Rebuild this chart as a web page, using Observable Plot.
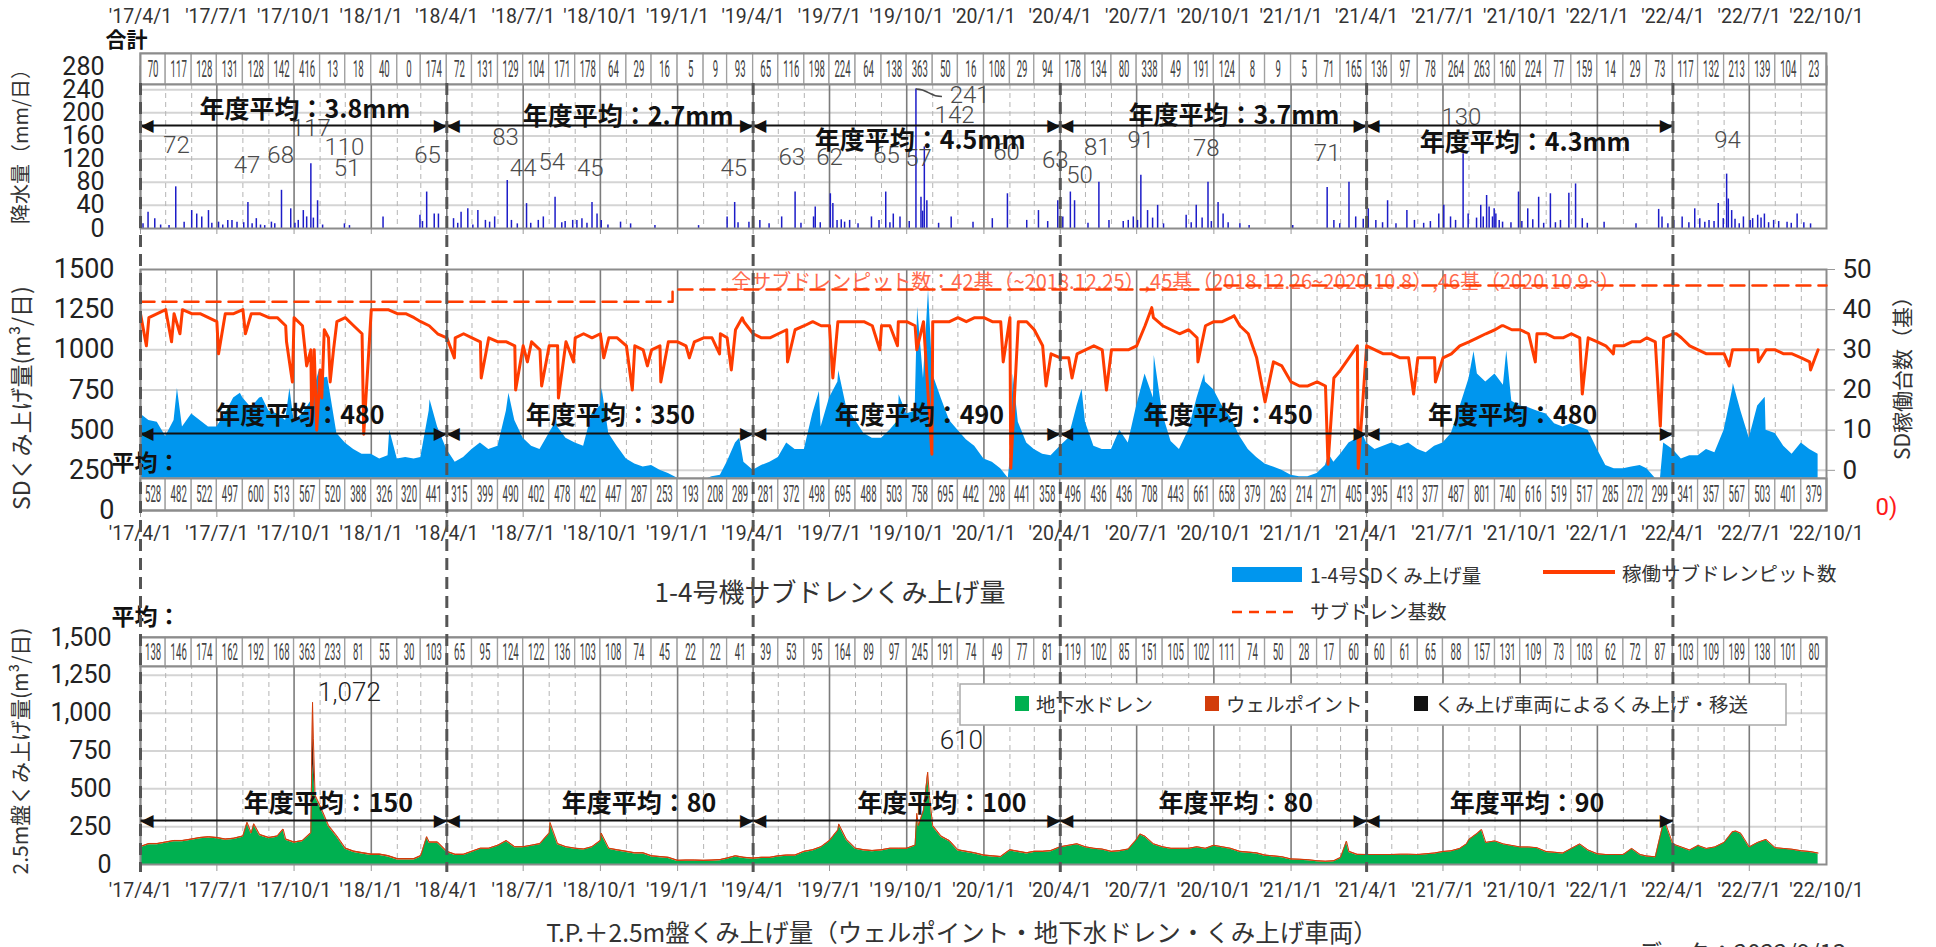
<!DOCTYPE html>
<html><head><meta charset="utf-8">
<script src="https://cdn.jsdelivr.net/npm/d3@7"></script>
<script src="https://cdn.jsdelivr.net/npm/@observablehq/plot@0.6"></script>
<style>
html,body{margin:0;padding:0;background:#fff;}
#root{position:relative;width:1936px;height:947px;overflow:hidden;background:#fff;}
#root svg{position:absolute;left:0;overflow:visible;}
[aria-label^="x-axis"]{color:#999;}
[aria-label^="y-axis"] line,[aria-label^="y-axis"] path{stroke:#999;}
</style></head><body><div id="root"></div>
<script>
// ---------------- DATA ----------------
const xTickLabels = ["'17/4/1","'17/7/1","'17/10/1","'18/1/1","'18/4/1","'18/7/1","'18/10/1","'19/1/1","'19/4/1","'19/7/1","'19/10/1","'20/1/1","'20/4/1","'20/7/1","'20/10/1","'21/1/1","'21/4/1","'21/7/1","'21/10/1","'22/1/1","'22/4/1","'22/7/1","'22/10/1"];
const fyStartYears = [2017, 2018, 2019, 2020, 2021];
const fyLineDates = ["2017-04-01","2018-04-01","2019-04-01","2020-04-01","2021-04-01","2022-04-01"];

// monthly totals / averages in the header strips (Apr 2017 - Sep 2022)
const rainMonthly = [70,117,128,131,128,142,416,13,18,40,0,174, 72,131,129,104,171,178,64,29,16,5,9,93, 65,116,198,224,64,138,363,50,16,108,29,94, 178,134,80,338,49,191,124,8,9,5,71,165, 136,97,78,264,263,160,224,77,159,14,29,73, 117,132,213,139,104,23];
const sdMonthly = [528,482,522,497,600,513,567,520,388,326,320,441, 315,399,490,402,478,422,447,287,253,193,208,289, 281,372,498,695,488,503,758,695,442,298,441,358, 496,436,436,708,443,661,658,379,263,214,271,405, 395,413,377,487,801,740,616,519,517,285,272,299, 341,357,567,503,401,379];
const tpMonthly = [138,146,174,162,192,168,363,233,81,55,30,103, 65,95,124,122,136,103,108,74,45,22,22,41, 39,53,95,164,89,97,245,191,74,49,77,81, 119,102,85,151,105,102,111,74,50,28,17,60, 60,61,65,88,157,131,109,73,103,62,72,87, 103,109,189,138,101,80];

// daily rainfall (mm/day) read from the spikes
const rainDaily = [
["2017-04-04",8],["2017-04-10",28],["2017-04-18",17],["2017-04-25",6],["2017-05-05",5],["2017-05-13",72],["2017-05-23",11],["2017-06-01",31],["2017-06-07",25],["2017-06-13",20],["2017-06-21",31],["2017-06-25",9],["2017-07-03",11],["2017-07-08",6],["2017-07-14",14],["2017-07-19",14],["2017-07-25",11],["2017-08-02",10],["2017-08-07",45],["2017-08-12",8],["2017-08-17",17],["2017-08-22",6],["2017-08-27",5],["2017-09-04",11],["2017-09-08",8],["2017-09-16",66],["2017-09-27",34],["2017-10-02",9],["2017-10-06",14],["2017-10-12",31],["2017-10-16",20],["2017-10-21",112],["2017-10-24",18],["2017-10-29",48],["2017-11-04",6],["2017-11-30",8],["2017-12-06",5],["2018-01-15",20],["2018-02-28",23],["2018-03-03",12],["2018-03-08",63],["2018-03-17",25],["2018-03-22",25],
["2018-04-09",17],["2018-04-14",9],["2018-04-18",28],["2018-04-26",34],["2018-05-02",6],["2018-05-08",31],["2018-05-17",14],["2018-05-22",11],["2018-05-28",20],["2018-06-12",83],["2018-06-17",14],["2018-06-24",8],["2018-07-05",43],["2018-07-10",9],["2018-07-19",14],["2018-07-25",20],["2018-08-08",54],["2018-08-16",10],["2018-08-20",12],["2018-08-29",14],["2018-09-03",14],["2018-09-09",17],["2018-09-15",9],["2018-09-21",45],["2018-09-27",25],["2018-10-02",14],["2018-10-10",6],["2018-10-25",11],["2018-11-06",8],["2018-12-05",5],["2019-01-26",5],["2019-03-01",20],["2019-03-10",45],["2019-03-14",10],["2019-03-27",11],
["2019-04-09",14],["2019-04-20",8],["2019-05-05",20],["2019-05-21",63],["2019-05-28",9],["2019-06-12",20],["2019-06-14",37],["2019-06-20",10],["2019-07-02",60],["2019-07-05",43],["2019-07-10",14],["2019-07-15",15],["2019-07-19",11],["2019-07-25",14],["2019-08-04",8],["2019-08-20",20],["2019-08-29",14],["2019-09-06",63],["2019-09-11",10],["2019-09-15",25],["2019-09-23",20],["2019-10-04",12],["2019-10-12",241],["2019-10-18",54],["2019-10-20",30],["2019-10-22",141],["2019-10-25",48],["2019-11-08",9],["2019-11-23",20],["2019-12-19",11],["2020-01-11",17],["2020-01-29",60],["2020-02-21",14],["2020-03-06",31],["2020-03-17",12],["2020-03-29",48],
["2020-04-04",20],["2020-04-13",63],["2020-04-18",48],["2020-05-04",9],["2020-05-17",80],["2020-05-29",14],["2020-06-15",12],["2020-06-21",14],["2020-06-27",20],["2020-07-02",14],["2020-07-06",92],["2020-07-14",31],["2020-07-20",18],["2020-07-26",40],["2020-08-02",8],["2020-08-29",23],["2020-09-04",10],["2020-09-10",40],["2020-09-17",18],["2020-09-24",80],["2020-09-28",12],["2020-10-06",45],["2020-10-12",25],["2020-10-18",10],["2020-11-01",8],["2020-11-12",5],["2021-01-03",5],["2021-02-13",71],["2021-02-21",14],["2021-02-28",8],["2021-03-11",80],["2021-03-19",20],["2021-03-28",16],
["2021-04-03",34],["2021-04-12",14],["2021-04-20",10],["2021-04-26",48],["2021-05-06",8],["2021-05-19",31],["2021-05-28",14],["2021-06-08",9],["2021-06-16",12],["2021-06-26",25],["2021-07-02",40],["2021-07-10",20],["2021-07-16",14],["2021-07-25",129],["2021-07-31",25],["2021-08-10",18],["2021-08-15",40],["2021-08-18",20],["2021-08-22",57],["2021-08-25",37],["2021-08-29",20],["2021-08-31",34],["2021-09-02",25],["2021-09-06",14],["2021-09-10",11],["2021-09-20",10],["2021-09-29",63],["2021-10-03",12],["2021-10-10",34],["2021-10-16",15],["2021-10-23",54],["2021-10-29",9],["2021-11-06",60],["2021-11-12",10],["2021-11-18",14],["2021-11-28",61],["2021-12-06",77],["2021-12-14",17],["2021-12-20",9],["2022-01-09",11],["2022-02-16",8],["2022-03-15",33],["2022-03-19",20],["2022-03-26",8],
["2022-04-02",14],["2022-04-12",20],["2022-04-20",10],["2022-04-27",34],["2022-05-03",17],["2022-05-09",11],["2022-05-14",14],["2022-05-20",12],["2022-05-25",43],["2022-05-31",17],["2022-06-04",94],["2022-06-06",51],["2022-06-10",31],["2022-06-14",16],["2022-06-19",8],["2022-06-24",20],["2022-07-02",14],["2022-07-05",17],["2022-07-11",23],["2022-07-15",18],["2022-07-19",25],["2022-07-24",10],["2022-07-30",14],["2022-08-05",12],["2022-08-15",11],["2022-08-20",9],["2022-08-27",25],["2022-09-04",10],["2022-09-12",8]
];
// grey figures written in the rainfall panel: [date, mm, label]
const rainLabels = [["2017-05-14",143,"72"],["2017-08-06",109,"47"],["2017-09-15",126,"68"],["2017-10-21",173,"117"],["2017-11-30",140,"110"],["2017-12-03",104,"51"],["2018-03-09",126,"65"],["2018-06-10",157,"83"],["2018-07-01",104,"44"],["2018-08-04",114,"54"],["2018-09-19",104,"45"],["2019-03-09",104,"45"],["2019-05-17",123,"63"],["2019-07-01",123,"62"],["2019-09-07",126,"65"],["2019-10-15",121,"57"],["2019-11-27",195,"142"],["2019-12-15",230,"241"],["2020-01-28",131,"60"],["2020-03-26",118,"63"],["2020-04-24",92,"50"],["2020-05-15",140,"81"],["2020-07-06",152,"91"],["2020-09-22",138,"78"],["2021-02-13",130,"71"],["2021-07-23",192,"130"],["2022-06-05",152,"94"]];
const rainLeader = [{x1:"2019-10-12",y1:241,x2:"2019-11-12",y2:228}];

// fiscal-year averages
const rainFYText = ["年度平均：3.8mm","年度平均：2.7mm","年度平均：4.5mm","年度平均：3.7mm","年度平均：4.3mm"];
const rainFYTextAt = [["2017-10-14",204],["2018-11-03",192],["2019-10-17",152],["2020-10-25",195],["2021-10-07",147]];
const rainArrowLevel = 178;
const sdFYText = ["年度平均：480","年度平均：350","年度平均：490","年度平均：450","年度平均：480"];
const sdFYTextAt = [["2017-10-08",591],["2018-10-13",591],["2019-10-16",591],["2020-10-18",591],["2021-09-22",591]];
const sdArrowLevel = 479;
const tpFYText = ["年度平均：150","年度平均：80","年度平均：100","年度平均：80","年度平均：90"];
const tpFYTextAt = [["2017-11-11",403],["2018-11-16",403],["2019-11-12",403],["2020-10-27",403],["2021-10-09",403]];
const tpArrowLevel = 291;

// SD pumping (m3/day), read on the 1st, 11th and 21st of each month
const sdBase = [
600,560,550, 460,560,520, 600,560,520, 520,600,700, 700,640,700, 620,600,560, 560,600,680, 820,800,480, 420,380,350, 350,320,340, 320,330,320, 330,620,520,
380,300,330, 380,420,380, 400,620,560, 450,400,380, 480,520,450, 420,400,600, 650,480,400, 320,290,270, 280,250,230, 200,190,190, 190,210,220, 300,420,300,
250,280,300, 330,420,380, 380,600,520, 700,800,650, 560,480,450, 450,500,560, 600,620,820, 850,700,560, 500,440,400, 320,300,260, 300,550,420, 380,350,340,
400,450,650, 550,400,380, 380,500,420, 650,850,700, 600,430,380, 500,700,800, 750,650,580, 460,380,330, 290,270,250, 220,210,210, 230,280,300, 350,420,450,
420,380,400, 420,400,420, 380,360,400, 420,480,640, 820,850,800, 850,780,680, 650,640,620, 600,540,520, 540,520,500, 380,280,260, 260,270,280, 260,200,420,
380,320,340, 340,380,360, 500,750,620, 450,650,500, 480,400,350, 420,380,350];
const sdExtra = [["2017-05-15",760],["2017-07-29",730],["2017-08-24",705],["2017-09-26",760],["2017-10-31",870],["2017-11-10",830],["2018-01-23",500],["2018-03-12",690],["2018-06-14",730],["2018-08-10",560],["2018-10-03",760],["2019-03-16",450],["2019-06-19",740],["2019-07-12",870],["2019-09-22",720],["2019-10-14",1265],["2019-10-27",1375],["2020-01-30",200],["2020-02-05",850],["2020-04-27",755],["2020-07-22",965],["2020-09-20",850],["2021-02-15",350],["2021-03-22",540],["2021-08-07",990],["2021-09-15",995],["2022-03-17",190],["2022-06-12",790],["2022-07-20",705]];

// operating sub-drain pits (count)
const pitsBase = [
39,38,39, 40,39,40, 39,39,38, 37,39,39, 40,39,39, 38,38,36, 38,36,30, 25,33,37, 38,36,34, 40,40,40, 39,39,38, 37,36,34,
33,33,34, 33,32,33, 32,32,31, 31,32,30, 31,31,32, 33,34,33, 34,33,33, 31,31,30, 30,31,32, 32,31,32, 33,33,34, 33,35,37,
34,33,33, 34,35,35, 36,37,36, 36,37,37, 37,37,36, 36,36,37, 37,36,37, 37,37,37, 38,37,38, 38,37,37, 38,37,37, 35,31,29,
28,28,29, 30,31,30, 30,30,30, 31,36,38, 36,35,34, 35,33,36, 37,37,38, 36,34,28, 27,27,26, 22,21,21, 22,21,23, 25,28,31,
31,30,29, 29,28,28, 28,28,28, 28,29,31, 32,33,34, 35,36,35, 35,34,34, 34,33,33, 34,33,33, 32,31,31, 31,32,32, 33,32,33,
34,33,31, 30,29,29, 29,30,30, 30,30,30, 30,29,29, 28,27,30];
const pitsExtra = [["2017-04-08",31],["2017-05-08",32],["2017-05-18",34],["2017-07-03",29],["2017-08-04",34],["2017-09-22",32],["2017-09-29",22],["2017-10-16",26],["2017-10-22",12],["2017-10-25",30],["2017-10-28",10],["2017-11-03",18],["2017-11-06",35],["2017-11-13",22],["2017-11-17",30],["2017-12-23",9],["2018-04-10",28],["2018-05-12",23],["2018-06-22",20],["2018-07-06",27],["2018-07-23",21],["2018-08-12",18],["2018-08-30",27],["2018-10-05",28],["2018-11-08",20],["2018-11-26",26],["2018-12-12",22],["2019-01-15",28],["2019-02-20",29],["2019-03-06",25],["2019-03-19",38],["2019-05-12",27],["2019-07-05",23],["2019-08-30",30],["2019-09-20",31],["2019-10-13",30],["2019-10-31",4],["2020-01-24",27],["2020-02-02",0.5],["2020-03-15",21],["2020-04-15",23],["2020-05-26",20],["2020-07-19",40.5],["2020-09-12",27],["2020-10-25",38.5],["2020-12-01",17],["2021-02-14",1.5],["2021-03-22",0.5],["2021-05-27",19],["2021-06-22",22],["2021-09-09",36],["2021-10-19",27],["2021-12-14",19],["2022-01-20",29],["2022-03-17",11],["2022-04-05",34],["2022-06-07",26],["2022-07-12",27],["2022-09-12",25]];
const pitCapacity = [["2017-04-01",42],["2018-12-26",45],["2020-10-09",46],["2022-10-01",46]];
const pitNote = "全サブドレンピット数：42基（~2018.12.25）,45基（2018.12.26~2020.10.8）,46基（2020.10.9~）";

// T.P.+2.5m pumping: groundwater drain (m3/day) on the 1st, 11th, 21st
const drainBase = [
110,130,130, 140,150,150, 160,170,175, 170,160,165, 180,200,190, 170,180,160, 140,150,200, 380,250,180, 100,80,70, 60,60,50, 30,30,30, 50,140,140,
80,60,60, 80,100,100, 120,150,110, 110,120,130, 200,130,110, 100,95,110, 150,100,90, 80,70,70, 50,45,40, 20,22,22, 20,22,25, 35,50,40,
35,40,40, 50,55,55, 80,90,110, 150,220,160, 100,90,85, 90,100,100, 100,120,350, 250,180,150, 90,80,70, 55,50,45, 90,80,70, 80,80,85,
110,120,130, 110,100,95, 80,85,95, 160,180,130, 110,100,100, 100,110,100, 120,110,100, 80,75,70, 55,50,45, 30,28,25, 18,15,18, 40,80,60,
60,60,60, 60,62,62, 60,65,70, 80,85,100, 160,200,140, 150,130,120, 110,110,105, 80,75,70, 100,130,90, 65,60,60, 60,100,60, 50,45,280,
130,110,90, 120,100,110, 140,210,200, 110,140,160, 105,100,95, 85,80,70];
const drainExtra = [["2017-08-06",270],["2017-08-14",260],["2017-09-18",225],["2017-10-23",660],["2017-10-24",600],["2017-10-26",450],["2018-03-08",175],["2018-08-02",270],["2018-10-02",200],["2019-07-12",260],["2019-10-13",330],["2019-10-15",250],["2019-10-26",577],["2019-10-28",450],["2020-07-05",195],["2021-03-08",147],["2021-07-29",130],["2021-08-16",225],["2022-03-22",285],["2022-06-15",215]];
const wellByFY = [9, 8, 8, 7, 6, 6];               // well point layer (thin red)
const tpLayers = [["2017-10-23",182,230],["2017-10-24",60,170],["2019-10-26",33,0]]; // [date, wellpoint, vehicle]
const tpPeakLabels = [["2017-12-06",1137,"1,072"],["2019-12-05",820,"610"]];

// ---------------- HELPERS ----------------
const CJK = "Noto Sans CJK JP, sans-serif";
const NUM = "Roboto, sans-serif";
const root = document.getElementById("root");
const xDomain = [new Date("2017-04-01"), new Date("2022-10-01")];
const monthStarts = d3.utcMonth.range(xDomain[0], xDomain[1]);
const quarterDates = monthStarts.filter(d => d.getUTCMonth() % 3 === 0);
const otherMonths = monthStarts.filter(d => d.getUTCMonth() % 3 !== 0);
const xTicks = xTickLabels.map(l => { const [yy, mm, dd] = l.slice(1).split("/").map(Number); return {label: l, date: new Date(Date.UTC(2000 + yy, mm - 1, dd))}; });
const sampleDays = monthStarts.flatMap(m => [1, 11, 21].map(d => new Date(Date.UTC(m.getUTCFullYear(), m.getUTCMonth(), d))));
function mergeSeries(base, extra) {
  const m = new Map();
  base.forEach((v, i) => { if (sampleDays[i]) m.set(+sampleDays[i], v); });
  extra.forEach(([d, v]) => m.set(+new Date(d), v));
  return [...m].map(([t, v]) => ({date: new Date(t), v})).sort((a, b) => a.date - b.date);
}
const sdSeries = mergeSeries(sdBase, sdExtra);
const pitSeries = mergeSeries(pitsBase, pitsExtra);
const fyIndex = d => (d.getUTCMonth() >= 3 ? d.getUTCFullYear() : d.getUTCFullYear() - 1) - 2017;
const layerMap = new Map(tpLayers.map(([d, w, v]) => [d, {w, v}]));
const tpSeries = mergeSeries(drainBase, drainExtra).map(p => {
  const L = layerMap.get(p.date.toISOString().slice(0, 10));
  const well = L ? L.w : wellByFY[fyIndex(p.date)];
  const veh = L ? L.v : 0;
  return {date: p.date, drain: p.v, veh: p.v + veh, total: p.v + veh + well};
});

const base = {width: 1936, marginLeft: 140, marginRight: 110};
const X = {type: "utc", domain: xDomain};
const sty = fs => ({background: "transparent", overflow: "visible", fontFamily: NUM, fontSize: fs + "px", color: "#222"});
function place(svg, top) { svg.style.top = top + "px"; root.appendChild(svg); return svg; }
function grid(yTicks) {
  return [
    Plot.ruleY(yTicks, {stroke: "#d4d4d4", strokeWidth: 2}),
    Plot.ruleX(otherMonths, {stroke: "#b4b4b4", strokeWidth: 1, strokeDasharray: "5,4"}),
    Plot.ruleX(quarterDates, {stroke: "#7c7c7c", strokeWidth: 1.6})
  ];
}
function fyArrows(level, texts, textAt) {
  const data = fyStartYears.map((y, i) => ({s: new Date(Date.UTC(y, 3, 1)), e: new Date(Date.UTC(y + 1, 3, 1)), t: texts[i], tx: new Date(textAt[i][0]), ty: textAt[i][1]}));
  return [
    Plot.link(data, {x1: "s", x2: "e", y1: level, y2: level, stroke: "#111", strokeWidth: 2}),
    Plot.text(data, {x: "s", y: level, text: () => "◀", textAnchor: "start", fontSize: 17, fontFamily: "DejaVu Sans", fill: "#111"}),
    Plot.text(data, {x: "e", y: level, text: () => "▶", textAnchor: "end", fontSize: 17, fontFamily: "DejaVu Sans", fill: "#111"}),
    Plot.text(data, {x: "tx", y: "ty", text: "t", fontSize: 25, fontWeight: "bold", fontFamily: CJK, fill: "#111"})
  ];
}
function xLabels(dy, anchor) {
  return Plot.text(xTicks, {x: "date", text: "label", frameAnchor: anchor, lineAnchor: "middle", dy, fontSize: 19.5, fill: "#333", fontFamily: NUM});
}
function label(t, o) {
  return Plot.text([t], {text: d => d, textAnchor: "middle", lineAnchor: "middle", fontFamily: CJK, fill: "#333", ...o});
}
function strip(values, top, height) {
  const data = monthStarts.map((d, i) => ({s: d, e: d3.utcMonth.offset(d, 1), m: new Date((+d + +d3.utcMonth.offset(d, 1)) / 2), v: values[i]}));
  const svg = Plot.plot({
    ...base, height, marginTop: 0, marginBottom: 0, style: sty(20),
    x: {...X, axis: null}, y: {domain: [0, 1], axis: null},
    marks: [
      Plot.rect(data, {x1: "s", x2: "e", y1: 0, y2: 1, fill: "white", stroke: "#a0a0a0", strokeWidth: 1.3}),
      Plot.text(data, {x: "m", y: 0.5, text: d => String(d.v), fontSize: 24, fill: "#444", fontFamily: NUM}),
      Plot.frame({stroke: "#8c8c8c", strokeWidth: 2})
    ]
  });
  svg.querySelectorAll('g[aria-label="text"] text').forEach(t => {
    t.setAttribute("transform", (t.getAttribute("transform") || "") + " scale(0.4,1)");
  });
  return place(svg, top);
}
const plain = d => String(d);

// ---------------- RAINFALL PANEL ----------------
place(Plot.plot({
  ...base, height: 240, marginTop: 66, marginBottom: 12, style: sty(25),
  x: {...X, ticks: quarterDates, tickSize: 6, tickFormat: () => "", label: null},
  y: {domain: [0, 280], ticks: d3.range(0, 281, 40), tickFormat: plain, tickSize: 0, tickPadding: 36, label: null},
  marks: [
    ...grid(d3.range(40, 281, 40)),
    Plot.ruleX(rainDaily, {x: d => new Date(d[0]), y: d => d[1], stroke: "#1c1cc8", strokeWidth: 1.5}),
    Plot.frame({stroke: "#8c8c8c", strokeWidth: 2}),
    Plot.text(rainLabels, {x: d => new Date(d[0]), y: d => d[1], text: d => d[2], fontSize: 24, fill: "#4a4a4a", fontFamily: NUM, fontWeight: 300}),
    Plot.link(rainLeader, {x1: d => new Date(d.x1), y1: "y1", x2: d => new Date(d.x2), y2: "y2", curve: "bump-x", stroke: "#4a4a4a", strokeWidth: 1.5}),
    ...fyArrows(rainArrowLevel, rainFYText, rainFYTextAt),
    xLabels(-50, "top"),
    label("降水量（mm/日）", {frameAnchor: "left", dx: -119, dy: -6, rotate: -90, fontSize: 20}),
    label("合計", {frameAnchor: "top-left", dx: -14, dy: -26, fontSize: 21, fontWeight: "bold", fill: "#111"})
  ]
}), 0);
strip(rainMonthly, 53, 31);

// ---------------- SUB-DRAIN PANEL ----------------
place(Plot.plot({
  ...base, height: 320, marginTop: 29, marginBottom: 50, style: sty(27),
  x: {...X, ticks: quarterDates, tickSize: 7, tickFormat: () => "", label: null},
  y: {domain: [0, 1500], ticks: d3.range(0, 1501, 250), tickFormat: plain, tickSize: 0, tickPadding: 26, label: null},
  marks: [
    ...grid(d3.range(250, 1251, 250)),
    Plot.areaY(sdSeries, {x: "date", y1: 0, y2: "v", fill: "#0096ee"}),
    Plot.frame({stroke: "#8c8c8c", strokeWidth: 2}),
    xLabels(23, "bottom"),
    label("SDくみ上げ量(m³/日)", {frameAnchor: "left", dx: -118, dy: 8, rotate: -90, fontSize: 23})
  ]
}), 240);
strip(sdMonthly, 478, 32);
place(Plot.plot({
  ...base, height: 320, marginTop: 29, marginBottom: 50, style: sty(26),
  x: {...X, axis: null},
  y: {domain: [-10, 50], ticks: d3.range(0, 51, 10), tickFormat: plain, axis: "right", tickSize: 8, tickPadding: 8, label: null},
  marks: [
    Plot.text([pitNote], {text: d => d, x: () => new Date("2019-03-06"), y: 46.8, textAnchor: "start", fontSize: 20, fill: "#ff6a4d", fontFamily: CJK}),
    Plot.line(pitCapacity, {x: d => new Date(d[0]), y: d => d[1], curve: "step-after", stroke: "#ff3c00", strokeWidth: 2.5, strokeDasharray: "14,8"}),
    Plot.line(pitSeries, {x: "date", y: "v", stroke: "#ff3c00", strokeWidth: 3, strokeLinejoin: "round"}),
    label("SD稼働台数（基）", {frameAnchor: "right", dx: 77, dy: -17, rotate: -90, fontSize: 21}),
    label("0)", {frameAnchor: "bottom-right", dx: 60, dy: -3, fill: "#ff1a1a", fontSize: 24, fontFamily: NUM})
  ]
}), 240);
place(Plot.plot({
  ...base, height: 320, marginTop: 29, marginBottom: 50, style: sty(20),
  x: {...X, axis: null}, y: {domain: [0, 1500], axis: null},
  marks: [
    ...fyArrows(sdArrowLevel, sdFYText, sdFYTextAt),
    label("平均：", {frameAnchor: "bottom-left", dx: -29, dy: -47, textAnchor: "start", fontSize: 23, fontWeight: "bold", fill: "#111"})
  ]
}), 240);

// ---------------- T.P.+2.5m PANEL ----------------
place(Plot.plot({
  ...base, height: 340, marginTop: 77, marginBottom: 36, style: sty(25),
  x: {...X, ticks: quarterDates, tickSize: 7, tickFormat: () => "", label: null},
  y: {domain: [0, 1500], ticks: d3.range(0, 1501, 250), tickFormat: d3.format(","), tickSize: 0, tickPadding: 29, label: null},
  marks: [
    ...grid(d3.range(250, 1251, 250)),
    Plot.areaY(tpSeries, {x: "date", y1: 0, y2: "drain", fill: "#00b050"}),
    Plot.areaY(tpSeries, {x: "date", y1: "drain", y2: "veh", fill: "#111"}),
    Plot.areaY(tpSeries, {x: "date", y1: "veh", y2: "total", fill: "#d23c0a"}),
    Plot.line(tpSeries, {x: "date", y: "total", stroke: "#d23c0a", strokeWidth: 1}),
    Plot.frame({stroke: "#8c8c8c", strokeWidth: 2}),
    Plot.text(tpPeakLabels, {x: d => new Date(d[0]), y: d => d[1], text: d => d[2], fontSize: 26, fill: "#222", fontFamily: NUM, fontWeight: 300}),
    ...fyArrows(tpArrowLevel, tpFYText, tpFYTextAt),
    xLabels(26, "bottom"),
    label("2.5m盤くみ上げ量(m³/日)", {frameAnchor: "left", dx: -119, rotate: -90, fontSize: 21}),
    label("平均：", {frameAnchor: "top-left", dx: -29, dy: -20, textAnchor: "start", fontSize: 23, fontWeight: "bold", fill: "#111"})
  ]
}), 560);
strip(tpMonthly, 637, 29);

// ---------------- LEGENDS & TITLES ----------------
const leg = d3.create("svg").attr("width", 1936).attr("height", 947).style("top", "0px")
  .style("font-family", CJK).style("font-size", "19.5px").attr("fill", "#333");
leg.append("rect").attr("x", 1232).attr("y", 567).attr("width", 70).attr("height", 15).attr("fill", "#0096ee");
leg.append("text").attr("x", 1310).attr("y", 574).attr("dominant-baseline", "central").text("1-4号SDくみ上げ量");
leg.append("line").attr("x1", 1543).attr("x2", 1615).attr("y1", 572).attr("y2", 572).attr("stroke", "#ff3c00").attr("stroke-width", 4);
leg.append("text").attr("x", 1622).attr("y", 572).attr("dominant-baseline", "central").text("稼働サブドレンピット数");
leg.append("line").attr("x1", 1232).attr("x2", 1298).attr("y1", 612).attr("y2", 612).attr("stroke", "#ff3c00").attr("stroke-width", 2.5).attr("stroke-dasharray", "10,7");
leg.append("text").attr("x", 1310).attr("y", 610).attr("dominant-baseline", "central").text("サブドレン基数");
leg.append("text").attr("x", 830).attr("y", 590).attr("text-anchor", "middle").attr("dominant-baseline", "central").style("font-size", "26px").text("1-4号機サブドレンくみ上げ量");
leg.append("rect").attr("x", 960).attr("y", 684).attr("width", 826).attr("height", 41).attr("fill", "#fff").attr("stroke", "#aaa").attr("stroke-width", 1.5);
[[1015, "#00b050", "地下水ドレン"], [1205, "#d23c0a", "ウェルポイント"], [1414, "#111", "くみ上げ車両によるくみ上げ・移送"]].forEach(([x, c, t]) => {
  leg.append("rect").attr("x", x).attr("y", 696).attr("width", 14).attr("height", 15).attr("fill", c);
  leg.append("text").attr("x", x + 21).attr("y", 703).attr("dominant-baseline", "central").text(t);
});
leg.append("text").attr("x", 962).attr("y", 931).attr("text-anchor", "middle").attr("dominant-baseline", "central").style("font-size", "24.5px").text("T.P.＋2.5m盤くみ上げ量（ウェルポイント・地下水ドレン・くみ上げ車両）");
leg.append("text").attr("x", 1638).attr("y", 962).style("font-size", "24px").text("データ：2022/9/13");
root.appendChild(leg.node());

// ---------------- FISCAL-YEAR DIVIDERS ----------------
place(Plot.plot({
  ...base, height: 947, marginTop: 83, marginBottom: 75, style: sty(10),
  x: {...X, axis: null},
  marks: [Plot.ruleX(fyLineDates, {x: d => new Date(d), stroke: "#555", strokeWidth: 3, strokeDasharray: "12,7"})]
}), 0);
</script></body></html>
